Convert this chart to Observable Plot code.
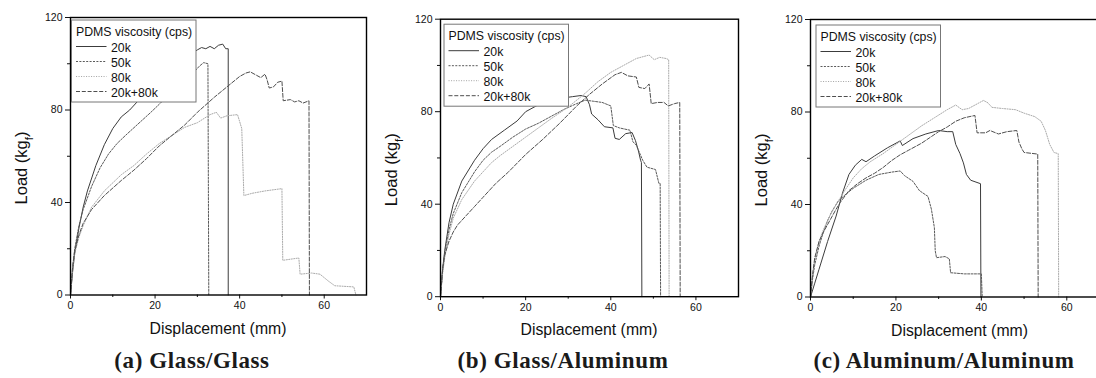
<!DOCTYPE html>
<html><head><meta charset="utf-8">
<script src="https://cdn.jsdelivr.net/npm/d3@7"></script>
<script src="https://cdn.jsdelivr.net/npm/@observablehq/plot@0.6"></script>
<style>
body{margin:0;background:#fff;}
#fig{position:relative;width:1096px;height:378px;overflow:hidden;background:#fff;}
.panel{position:absolute;top:0;}
.cap{position:absolute;top:349px;width:300px;text-align:center;white-space:nowrap;font-family:"Liberation Serif","DejaVu Serif",serif;font-weight:bold;font-size:23px;line-height:23px;color:#1a1a1a;letter-spacing:0.6px;}
</style></head><body><div id="fig"></div>
<script>
// ---------- data ----------
const seriesNames = ["20k", "50k", "80k", "20k+80k"];
const panelTitles = ["(a) Glass/Glass", "(b) Glass/Aluminum", "(c) Aluminum/Aluminum"];
const legendTitle = "PDMS viscosity (cps)";
const xLabel = "Displacement (mm)";
const yLabelMain = "Load (kg";
const yLabelSub = "f";
const xTicks = [0, 20, 40, 60];
const xMinorTicks = [10, 30, 50];
const yTicks = [0, 40, 80, 120];
const yMinorTicks = [20, 60, 100];

// (a) Glass/Glass  [displacement mm, load kgf]
const glassGlass20k = [[0,0],[0.5,10],[1,18],[2,29],[3,38],[4,45],[6,56],[8,65],[10,72],[12,77],[14,80],[16,84],[19,89],[22,94],[25,99],[28,103.5],[30,106],[31,107],[32,106.5],[33,107.5],[34,106.5],[35,108],[36,108.5],[36.7,106.5],[37.3,106.5],[37.3,0]];
const glassGlass50k = [[0,0],[0.5,12],[1,20],[2,30],[3,37],[5,47],[7,55],[9,61],[11,65.5],[13,69],[16,74],[19,79],[21,82.5],[24,88],[27,93],[29,96],[30.5,99],[31.5,100.5],[32.5,100],[32.7,0]];
const glassGlass80k = [[0,0],[0.5,11],[1,18],[2,25],[3,30],[5,38],[8,45],[12,52],[15,56],[18,61],[21,65.5],[24,69],[27,72.5],[30,74.5],[33,78],[34.5,79],[35.5,76.5],[37,77.5],[39.5,78],[40.5,72],[41,43],[43,44],[46,45],[50,46],[50.2,15],[54,16],[54.3,9],[57,9.5],[59,9],[61,6],[62.5,4],[67,3.5],[67.5,0]];
const glassGlass20k80k = [[0,0],[0.5,12],[1,19],[2,26],[3,31],[5,37],[8,43],[12,49.5],[15,54],[18,59],[21,64.5],[24,69],[27,73.5],[30,79],[34,85.5],[38,91.5],[40,94.5],[41.5,96],[42.5,96.5],[44,95],[45,94],[46,95.5],[46.5,93],[47,89.5],[48,90],[49,92],[50,92.5],[50.3,84],[52,84.5],[53,83.5],[54,84],[55,83],[56.4,84],[56.5,0]];

// (b) Glass/Aluminum
const glassAl20k = [[0,0],[0.5,12],[1,20],[2,32],[3,40],[5,50],[8,59],[10,64],[12,68],[15,72],[18,76],[20,80],[23,83],[26,85],[29,86],[31,86.5],[33,87],[34.2,86.5],[35,83],[35.5,79],[37,76.5],[38.5,73.5],[40.5,73],[41,68.5],[42,68],[43.5,70.5],[45,71],[45.8,67.5],[46.5,63],[47,59],[47.2,58],[47.3,0]];
const glassAl50k = [[0,0],[0.5,11],[1,19],[2,29],[3,36],[5,45],[8,54],[10,59],[12,62.5],[14,65],[17,69],[20,72.5],[23,75],[26,78],[29,81],[32,83.5],[34,85],[36,84.5],[38,84],[40,82.5],[40.6,74],[42,73],[44.5,72],[45.2,67],[46,65.5],[47.5,59],[48.5,56],[50.5,55],[51.3,49],[51.6,49],[51.7,0]];
const glassAl80k = [[0,0],[0.5,10],[1,17],[2,27],[3,34],[5,42],[8,50],[10,54],[12,58],[14,61],[17,65],[20,69],[23,73],[26,77],[30,82],[34,88],[37,93],[40,97],[43,100],[46,103],[49,104.5],[50.2,102.5],[51.5,103.5],[53,103],[53.6,102.5],[53.7,0]];
const glassAl20k80k = [[0,0],[0.5,12],[1,18],[2,24],[3,28],[4,31],[6,35],[8,39],[10,43],[13,49],[16,54],[20,61.5],[24,68],[28,75],[32,82.5],[35,87.5],[38,92],[41,96],[42.5,97],[44,95.5],[46,95],[46.6,90.5],[48,90],[49,92],[49.5,83.5],[51,84],[52.5,84],[53.5,82.5],[55,83.5],[56.2,84],[56.3,0]];

// (c) Aluminum/Aluminum
const alAl20k = [[0,0],[1,6],[2,12],[4,24],[6,35],[7.5,45],[9,53],[10.5,57],[12,59.5],[13,58.5],[15,61],[18,64.5],[21,67.5],[21.5,65.5],[24,68.5],[27,70.5],[30,72],[32,71.5],[33.3,71.5],[34,66],[35,62],[35.8,58],[36.5,53],[37.5,50.5],[39.8,49],[39.9,0]];
const alAl50k = [[0,0],[0.5,8],[1,14],[2,22],[3,28],[4,33],[5,37],[6.5,41.5],[8,44],[10,47],[13,50.5],[16,53],[19,54],[21,54.5],[22,52.5],[24,50],[25.5,46],[27.5,43.5],[28.3,38],[29,30],[29.2,20],[29.5,17],[31.5,17.5],[32.5,16.5],[32.8,10.5],[36,10],[40,10],[40.2,0]];
const alAl80k = [[0,0],[0.5,9],[1,16],[2,24],[3,29],[4.5,35],[6,40],[8,46],[10,51.5],[12,55.5],[14,58.5],[17,62],[20,66],[23,70],[26,74],[29,77.5],[32,81],[34,83],[35.5,81],[37,81.5],[39,83.5],[40.5,85],[41.5,84],[42.5,82],[45,81.5],[48,81],[50,79.5],[52.5,78],[54,76],[55,72],[56,66],[57,62.5],[58,62],[58.1,0]];
const alAl20k80k = [[0,0],[0.5,10],[1,17],[2,24],[3,28],[4.5,33],[6,38],[7,41],[9,46],[11,49],[13,51.5],[15,53.5],[17,56],[19,59],[21,61.5],[23,63.5],[26,66.5],[28,69],[30,71.5],[32,73.5],[34,76],[36,77.5],[38.5,78.5],[39,71],[41,71],[42,72],[44,70.5],[46,71.5],[48.3,72],[48.8,67],[49.5,64],[50,62.5],[53.2,61.8],[53.3,0]];

const panelSeries = [
  [glassGlass20k, glassGlass50k, glassGlass80k, glassGlass20k80k],
  [glassAl20k, glassAl50k, glassAl80k, glassAl20k80k],
  [alAl20k, alAl50k, alAl80k, alAl20k80k]
];

// ---------- styles / layout ----------
const seriesStroke = ["#3c3c3c", "#5a5a5a", "#aaaaaa", "#4e4e4e"];
const seriesDash = [null, "2,1.4", "1.1,1.4", "4,1.8"];
const layout = [
  {left: 0,   mt: 17,   mr: 14, cap: 192, leg: [1.5, 3]},
  {left: 370, mt: 18.7, mr: 12, cap: 563, leg: [4, 5.5]},
  {left: 740, mt: 19,   mr: 11, cap: 944, leg: [6, 6]}
];
const W = 380, H = 345, ML = 70, PH = 277.5;
const sans = "'Liberation Sans', Arial, sans-serif";
const fig = document.getElementById("fig");

panelSeries.forEach((series, p) => {
  const L = layout[p];
  const mb = H - L.mt - PH;
  const marks = series.map((data, i) => Plot.line(data, {
    x: d => d[0], y: d => d[1],
    stroke: seriesStroke[i], strokeWidth: 1, strokeDasharray: seriesDash[i]
  }));
  marks.push(
    Plot.axisX(xTicks, {tickSize: 4, tickPadding: 3, fontSize: 10.5, label: null}),
    Plot.axisX(xMinorTicks, {tickSize: 2.5, tickFormat: () => "", label: null}),
    Plot.axisY(yTicks, {tickSize: 5, tickPadding: 3, fontSize: 10.5, label: null}),
    Plot.axisY(yMinorTicks, {tickSize: 3, tickFormat: () => "", label: null}),
    Plot.frame({stroke: "#000", strokeWidth: 1.4})
  );
  const svg = Plot.plot({
    width: W, height: H,
    marginLeft: ML, marginRight: L.mr, marginTop: L.mt, marginBottom: mb,
    x: {domain: [0, 70]},
    y: {domain: [0, 120]},
    style: {background: "transparent", overflow: "visible", fontFamily: sans, color: "#111"},
    marks
  });
  const s = d3.select(svg);
  const plotRight = W - L.mr, plotBottom = L.mt + PH;
  // axis labels
  s.append("text")
    .attr("x", (ML + plotRight) / 2).attr("y", plotBottom + 39)
    .attr("text-anchor", "middle").attr("font-family", sans).attr("font-size", 15.8).attr("fill", "#111")
    .text(xLabel);
  const yl = s.append("text")
    .attr("transform", `translate(${ML - 43},${L.mt + 151}) rotate(-90)`)
    .attr("text-anchor", "middle").attr("font-family", sans).attr("font-size", 16.5).attr("fill", "#111");
  yl.append("tspan").text(yLabelMain);
  yl.append("tspan").attr("font-size", 11.5).attr("baseline-shift", "sub").text(yLabelSub);
  yl.append("tspan").text(")");
  // legend
  const g = s.append("g").attr("transform", `translate(${ML + L.leg[0]},${L.mt + L.leg[1]})`)
    .attr("text-anchor", "start");
  g.append("rect").attr("width", 124.5).attr("height", 82).attr("fill", "#fff").attr("stroke", "#777").attr("stroke-width", 1);
  g.append("text").attr("x", 4.5).attr("y", 16).attr("text-anchor", "start").attr("font-family", sans).attr("font-size", 12.3).attr("fill", "#111").text(legendTitle);
  seriesNames.forEach((name, i) => {
    const by = 31.5 + i * 15;
    g.append("line").attr("x1", 4.5).attr("x2", 35).attr("y1", by - 5).attr("y2", by - 5)
      .attr("stroke", seriesStroke[i]).attr("stroke-width", 1).attr("stroke-dasharray", seriesDash[i]);
    g.append("text").attr("x", 39.5).attr("y", by).attr("text-anchor", "start").attr("font-family", sans).attr("font-size", 12.3).attr("fill", "#111").text(name);
  });
  svg.classList.add("panel");
  svg.style.left = L.left + "px";
  svg.style.position = "absolute";
  svg.style.top = "0px";
  svg.style.maxWidth = "none";
  fig.appendChild(svg);
  const cap = document.createElement("div");
  cap.className = "cap";
  cap.style.left = (L.cap - 150) + "px";
  cap.textContent = panelTitles[p];
  fig.appendChild(cap);
});
</script></body></html>
